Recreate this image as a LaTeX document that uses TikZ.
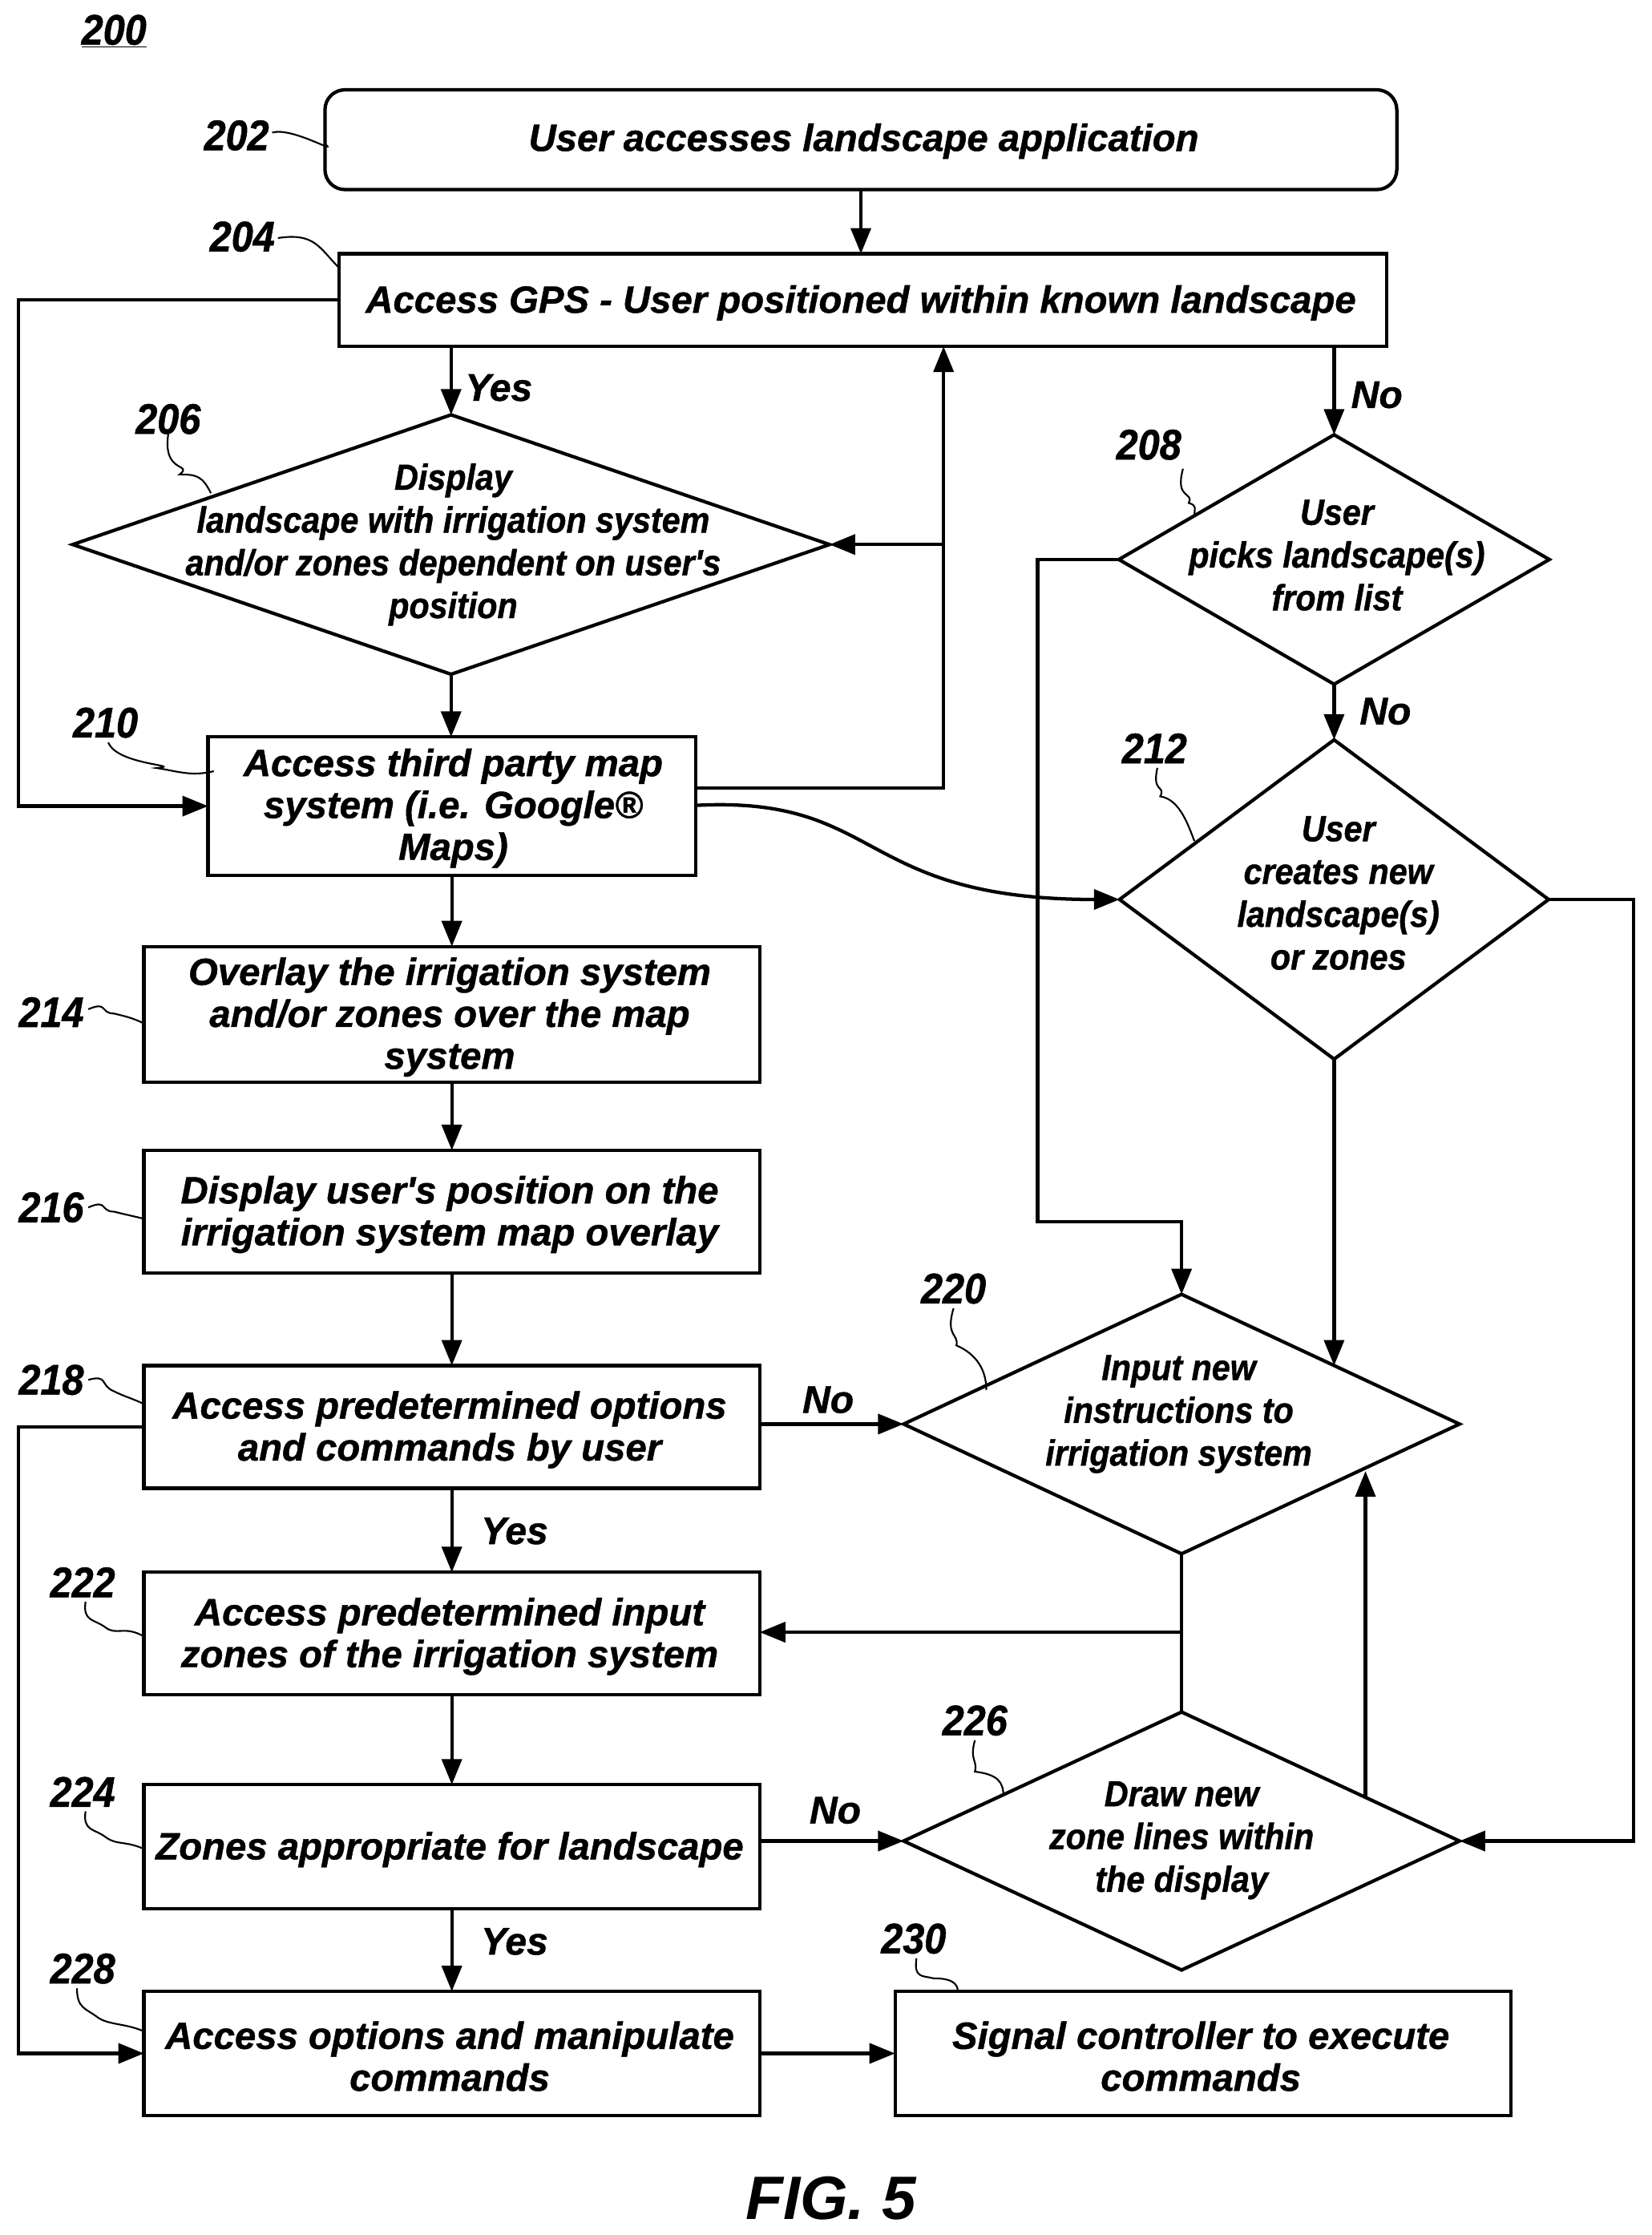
\documentclass[tikz,border=0pt]{standalone}
\usepackage{fontspec}
\setmainfont{Liberation Sans}
\newfontfamily\wideface[FakeBold=1]{Liberation Sans}
\newfontfamily\narrowface[FakeStretch=0.91,FakeBold=1]{Liberation Sans}
\usetikzlibrary{arrows.meta,shapes.geometric,calc}
\tikzset{
  boxnode/.style={draw,line width=2.4pt,rectangle,outer sep=0pt,inner sep=0pt},
  boxtext/.style={align=center,inner sep=0pt,font=\fontsize{26.6}{29.4}\selectfont\wideface\bfseries\itshape},
  decision/.style={draw,line width=2.4pt,diamond,aspect=1,outer sep=0pt,inner sep=0pt},
  decisiontext/.style={align=center,inner sep=0pt,font=\fontsize{25.5}{30}\selectfont\narrowface\bfseries\itshape},
  refnum/.style={inner sep=0pt,font=\fontsize{30}{32}\selectfont\narrowface\bfseries\itshape},
  answer/.style={inner sep=0pt,font=\fontsize{27}{30}\selectfont\wideface\bfseries\itshape},
  flow/.style={line width=2.4pt,-{Triangle[length=18pt,width=14pt]}},
  plainline/.style={line width=2.4pt},
  leader/.style={line width=1.2pt},
}
\newcommand{\boxat}[6]{\node[boxnode,minimum width=#4 pt-#2 pt,minimum height=#5 pt-#3 pt] (#1) at ({(#2+#4)/2},{(#3+#5)/2}) {};\node[boxtext] (#1t) at ({(#2+#4)/2-1.5},{(#3+#5)/2+2}) {#6};}
\newcommand{\diam}[8]{\node[decision,minimum width=#2 pt,minimum height=#3 pt] (#1) at (#4,#5) {};\node[decisiontext] (#1t) at (#6,#7) {#8};}
\begin{document}
\begin{tikzpicture}[x=1pt,y=-1pt]
\useasboundingbox (0,0) rectangle (1159,1567.9);
\node[draw,line width=2.4pt,rounded corners=14pt,outer sep=0pt,inner sep=0pt,minimum width=752pt,minimum height=70pt] (n202) at (604,98) {};
\node[boxtext] (n202t) at (606,99) {User accesses landscape application};
\boxat{n204}{238}{178}{973}{243}{Access GPS - User positioned within known landscape}
\node[boxnode,minimum width=342pt,minimum height=97pt] (n210) at (317,565.5) {};
\node[boxtext] (n210t) at (318,567) {Access third party map\\system (i.e. Google®\\Maps)};
\boxat{n214}{101}{664}{533}{759}{Overlay the irrigation system\\and/or zones over the map\\system}
\boxat{n216}{101}{807}{533}{893}{Display user's position on the\\irrigation system map overlay}
\boxat{n218}{101}{958}{533}{1044}{Access predetermined options\\and commands by user}
\boxat{n222}{101}{1103}{533}{1189}{Access predetermined input\\zones of the irrigation system}
\boxat{n224}{101}{1252}{533}{1339}{Zones appropriate for landscape}
\boxat{n228}{101}{1397}{533}{1484}{Access options and manipulate\\commands}
\boxat{n230}{628}{1397}{1060}{1484}{Signal controller to execute\\commands}
\diam{n206}{531}{182}{316.5}{382}{318}{382}{Display\\landscape with irrigation system\\and/or zones dependent on user's\\position}
\diam{n208}{302}{175}{936}{392.5}{938}{389.5}{User\\picks landscape(s)\\from list}
\diam{n212}{301}{224}{936}{631}{939}{626.5}{User\\creates new\\landscape(s)\\or zones}
\diam{n220}{390}{182}{829}{999}{827}{992}{Input new\\instructions to\\irrigation system}
\diam{n226}{390}{181}{829}{1291.5}{829}{1291}{Draw new\\zone lines within\\the display}
% reference numerals
\node[refnum] (r200) at (80,22) {\underline{200}};
\node[refnum] (r202) at (166,95) {202};
\node[refnum] (r204) at (170,166) {204};
\node[refnum] (r206) at (118,294) {206};
\node[refnum] (r208) at (806,312) {208};
\node[refnum] (r210) at (74,507) {210};
\node[refnum] (r212) at (810,525) {212};
\node[refnum] (r214) at (36,710) {214};
\node[refnum] (r216) at (36,847) {216};
\node[refnum] (r218) at (36,968) {218};
\node[refnum] (r220) at (669,904) {220};
\node[refnum] (r222) at (58,1110) {222};
\node[refnum] (r224) at (58,1257) {224};
\node[refnum] (r226) at (684,1207) {226};
\node[refnum] (r228) at (58,1381) {228};
\node[refnum] (r230) at (641,1360) {230};
% branch labels
\node[answer] (a1) at (350,272) {Yes};
\node[answer] (a2) at (966,277) {No};
\node[answer] (a3) at (972,499) {No};
\node[answer] (a4) at (581,982) {No};
\node[answer] (a5) at (361,1074) {Yes};
\node[answer] (a6) at (586,1270) {No};
\node[answer] (a7) at (361,1362) {Yes};
\node[inner sep=0pt,font=\fontsize{43}{46}\selectfont\bfseries\itshape] (fig) at (583,1542) {FIG. 5};
% leaders
\coordinate (l202) at (228,101);
\coordinate (l204) at (238,188);
\coordinate (l206) at (148,346);
\coordinate (l208) at (838,362);
\coordinate (l210) at (150,541);
\coordinate (l212) at (838,590);
\coordinate (l214) at (101,718);
\coordinate (l216) at (101,855);
\coordinate (l218) at (101,985);
\coordinate (l220) at (692,975);
\coordinate (l222) at (101,1148);
\coordinate (l224) at (101,1297);
\coordinate (l226) at (704,1260);
\coordinate (l228) at (101,1425);
\coordinate (l230) at (672,1397);
\draw[leader] (r202.east) ++(2,-2) .. controls +(14,-4) and +(10,8) .. (l202);
\draw[leader] (r204.east) ++(2,1) .. controls +(26,-4) and +(-14,-14) .. (l204);
\draw[leader] (r206.south) .. controls +(-4,28) and +(10,-8) .. ++(8,28) .. controls +(12,0) and +(-6,-12) .. (l206);
\draw[leader] (r208.south) ++(24,6) .. controls +(-6,22) and +(4,-8) .. ++(4,24) .. controls +(6,2) and +(0,-6) .. (l208);
\draw[leader] (r210.south) ++(2,3) .. controls +(6,16) and +(20,-2) .. ++(34,18) .. controls +(14,2) and +(-16,4) .. (l210);
\draw[leader] (r212.south) ++(2,3) .. controls +(-4,18) and +(4,-8) .. ++(2,20) .. controls +(14,2) and +(-4,-10) .. (l212);
\draw[leader] (r214.east) ++(3,-2) .. controls +(14,-6) and +(-10,0) .. ++(18,3) .. controls +(8,2) and +(-8,-4) .. (l214);
\draw[leader] (r216.east) ++(3,0) .. controls +(14,-6) and +(-10,0) .. ++(18,3) .. controls +(8,2) and +(-8,-2) .. (l216);
\draw[leader] (r218.east) ++(3,0) .. controls +(14,-4) and +(-10,-4) .. ++(18,8) .. controls +(8,4) and +(-8,-4) .. (l218);
\draw[leader] (r220.south) ++(0,3) .. controls +(-6,20) and +(2,-8) .. ++(2,26) .. controls +(14,6) and +(0,-14) .. (l220);
\draw[leader] (r222.south) ++(2,3) .. controls +(-2,14) and +(-8,-6) .. ++(14,18) .. controls +(8,6) and +(-14,-8) .. (l222);
\draw[leader] (r224.south) ++(2,3) .. controls +(-2,14) and +(-8,-6) .. ++(14,18) .. controls +(8,6) and +(-14,-6) .. (l224);
\draw[leader] (r226.south) ++(0,3) .. controls +(-4,14) and +(2,-8) .. ++(0,22) .. controls +(16,2) and +(0,-10) .. (l226);
\draw[leader] (r228.south) ++(-4,3) .. controls +(0,14) and +(-8,-6) .. ++(14,20) .. controls +(8,6) and +(-14,-6) .. (l228);
\draw[leader] (r230.south) ++(2,3) .. controls +(-2,14) and +(-8,-2) .. ++(12,14) .. controls +(12,0) and +(0,-6) .. (l230);
% connectors
\coordinate (railL) at (13,0);
\coordinate (railM) at (662,0);
\coordinate (railD) at (728,0);
\coordinate (railR) at (1146,0);
\coordinate (out210) at (488,553);
\coordinate (start210) at (488,565);
\coordinate (jog220) at (829,857);
\coordinate (hit212) at (936,958);
\coordinate (hit226) at (958,1260);
\coordinate (hit220) at (958,1032);
\coordinate (branch) at (829,1145);
\draw[flow] (n202.south) -- (n202.south |- n204.north);
\draw[flow] (n206.north |- n204.south) -- (n206.north);
\draw[flow] (n208.north |- n204.south) -- (n208.north);
\draw[flow] (n204.west) -- (railL |- n204.west) -- (railL |- n210.west) -- (n210.west);
\draw[flow] (n206.south) -- (n206.south |- n210.north);
\draw[flow] (out210) -- (railM |- out210) -- (railM |- n204.south);
\draw[flow] (railM |- n206.east) -- (n206.east);
\draw[flow] (start210) .. controls (620,558) and (600,631) .. (n212.west);
\draw[flow] (n208.west) -- (railD |- n208.west) -- (railD |- jog220) -- (jog220) -- (n220.north);
\draw[flow] (n208.south) -- (n212.north);
\draw[flow] (n212.south) -- (hit212);
\draw[flow] (n212.east) -- (railR |- n212.east) -- (railR |- n226.east) -- (n226.east);
\draw[flow] (n210.south -| n214.north) -- (n214.north);
\draw[flow] (n214.south) -- (n216.north);
\draw[flow] (n216.south) -- (n218.north);
\draw[flow] (n218.south) -- (n222.north);
\draw[flow] (n222.south) -- (n224.north);
\draw[flow] (n224.south) -- (n228.north);
\draw[flow] (n218.east |- n220.west) -- (n220.west);
\draw[flow] (n218.west) -- (railL |- n218.west) -- (railL |- n228.west) -- (n228.west);
\draw[plainline] (n220.south) -- (n226.north);
\draw[flow] (branch) -- (branch -| n222.east);
\draw[flow] (hit226) -- (hit220);
\draw[flow] (n224.east |- n226.west) -- (n226.west);
\draw[flow] (n228.east) -- (n230.west);
\end{tikzpicture}
\end{document}
